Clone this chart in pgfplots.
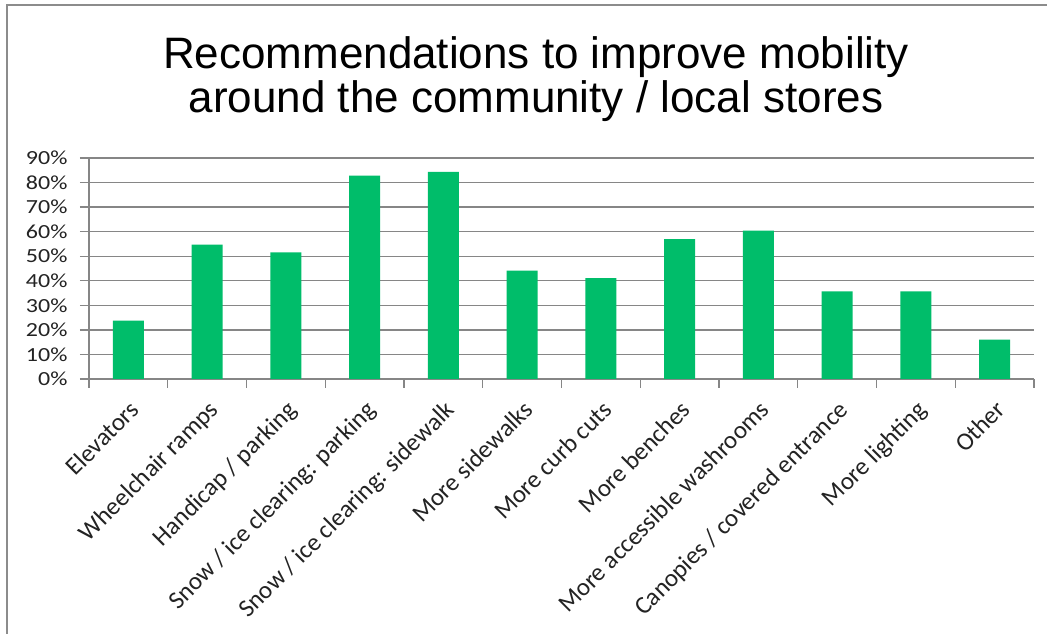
\documentclass[border=0pt]{standalone}
\usepackage{pgfplots}
\pgfplotsset{compat=1.18}
\usepackage{fontspec}
\setmainfont{Carlito}
\newfontfamily\titlefont{Liberation Sans}

\definecolor{barg}{RGB}{0,189,106}
\definecolor{gridgray}{RGB}{134,134,134}
\definecolor{framegray}{RGB}{140,140,140}
\definecolor{labelc}{RGB}{35,35,35}

\begin{document}
\begin{tikzpicture}
\fill[white] (0,0) rectangle (1047bp,634bp);
\useasboundingbox (0,0) rectangle (1047bp,634bp);
\draw[framegray, line width=1.5bp] (7bp,-5bp) -- (7bp,629bp) -- (1052bp,629bp);

% title
\node[anchor=base, inner sep=0pt, font=\titlefont\fontsize{44bp}{48bp}\selectfont]
  at (536bp,565bp) {Recommendations to improve mobility};
\node[anchor=base, inner sep=0pt, font=\titlefont\fontsize{44bp}{48bp}\selectfont]
  at (536bp,521bp) {around the community / local stores};

\begin{axis}[
    at={(89bp,255bp)}, anchor=south west,
    scale only axis, width=945bp, height=221bp,
    xmin=0.5, xmax=12.5, ymin=0, ymax=90,
    axis x line*=bottom, axis y line*=left,
    axis line style={draw=gridgray, line width=1.3bp, -},
    ytick={0,10,...,90},
    yticklabel={\scalebox{1.2}[1]{\pgfmathprintnumber[assume math mode=true]{\tick}\%}},
    yticklabel style={font=\fontsize{20bp}{20bp}\selectfont, text=labelc, xshift=-9bp},
    ymajorgrids, grid style={draw=gridgray, line width=1.3bp},
    tick align=outside, major tick length=9bp,
    tick style={draw=gridgray, line width=1.3bp},
    xtick={0.5,1.5,...,12.5}, xticklabels={},
    extra x ticks={1,2,3,4,5,6,7,8,9,10,11,12},
    extra x tick labels={Elevators, Wheelchair ramps, Handicap / parking,
      Snow / ice clearing: parking, Snow / ice clearing: sidewalk,
      More sidewalks, More curb cuts, More benches, More accessible washrooms,
      Canopies / covered entrance, More lighting, Other},
    extra x tick style={major tick length=0pt, grid=none,
      xticklabel style={yshift=-20bp, rotate=45, anchor=north east, inner sep=0pt,
        font=\fontsize{25bp}{25bp}\selectfont, text=labelc}},
    ybar, bar width=31bp,
]
\addplot[fill=barg, draw=none] coordinates {
  (1,23.8) (2,54.7) (3,51.6) (4,82.8) (5,84.3) (6,44.1)
  (7,41.1) (8,57.0) (9,60.4) (10,35.7) (11,35.7) (12,16.0)
};
\end{axis}
\end{tikzpicture}
\end{document}
